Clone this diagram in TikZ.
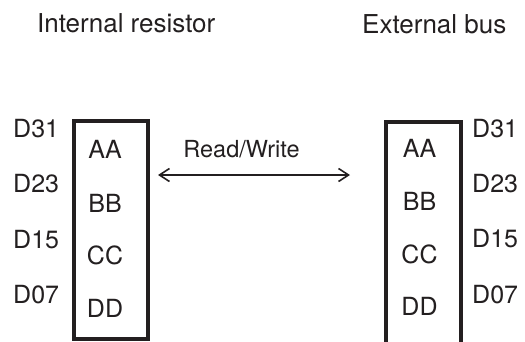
\documentclass[tikz,border=0pt]{standalone}
\usepackage{fontspec}
\setmainfont{TeX Gyre Heros}
\usetikzlibrary{arrows.meta}
\definecolor{ink}{HTML}{231F20}
\begin{document}
\begin{tikzpicture}[x=1pt,y=-1pt,
  title/.style={anchor=base west,inner sep=0pt,text=ink,font=\fontsize{26}{30}\selectfont},
  lbl/.style={anchor=base west,inner sep=0pt,text=ink,font=\fontsize{25}{29}\selectfont},
  reg/.style={anchor=base,inner sep=0pt,text=ink,font=\fontsize{25}{29}\selectfont},
  regbox/.style={draw=ink,line width=3.4pt,rectangle,inner sep=0pt},
  rw/.style={draw=ink,line width=1.6pt,{Straight Barb[length=10pt,width=13pt]}-{Straight Barb[length=10pt,width=13pt]}}]
\useasboundingbox (0,0) rectangle (525,341);
% titles
\node[title] (tin) at (37,32) {Internal resistor};
\node[title] (tex) at (362,33) {External bus};
% boxes
\node[regbox,minimum width=74pt,minimum height=218pt] (lbox) at (111,230) {};
\node[regbox,minimum width=75pt,minimum height=228pt] (rbox) at (423.5,236) {};
% left labels
\node[lbl] (l31) at (13,137) {D31};
\node[lbl] (l23) at (13,192) {D23};
\node[lbl] (l15) at (13,248) {D15};
\node[lbl] (l07) at (13,303) {D07};
\node[reg] (la) at (105,158) {AA};
\node[reg] (lb) at (105,212) {BB};
\node[reg] (lc) at (105,264) {CC};
\node[reg] (ld) at (105,317) {DD};
% right labels
\node[lbl] (r31) at (472,137) {D31};
\node[lbl] (r23) at (472,192) {D23};
\node[lbl] (r15) at (472,247) {D15};
\node[lbl] (r07) at (472,303) {D07};
\node[reg] (ra) at (419.5,157) {AA};
\node[reg] (rb) at (419.5,210) {BB};
\node[reg] (rc) at (419.5,263) {CC};
\node[reg] (rd) at (419.5,315) {DD};
% arrow
\coordinate (a1) at (158,175);
\coordinate (a2) at (350,175);
\draw[rw] (a1) -- (a2);
\node[reg,font=\fontsize{23.5}{27}\selectfont] (rwl) at (241.5,157) {Read/Write};
\end{tikzpicture}
\end{document}
